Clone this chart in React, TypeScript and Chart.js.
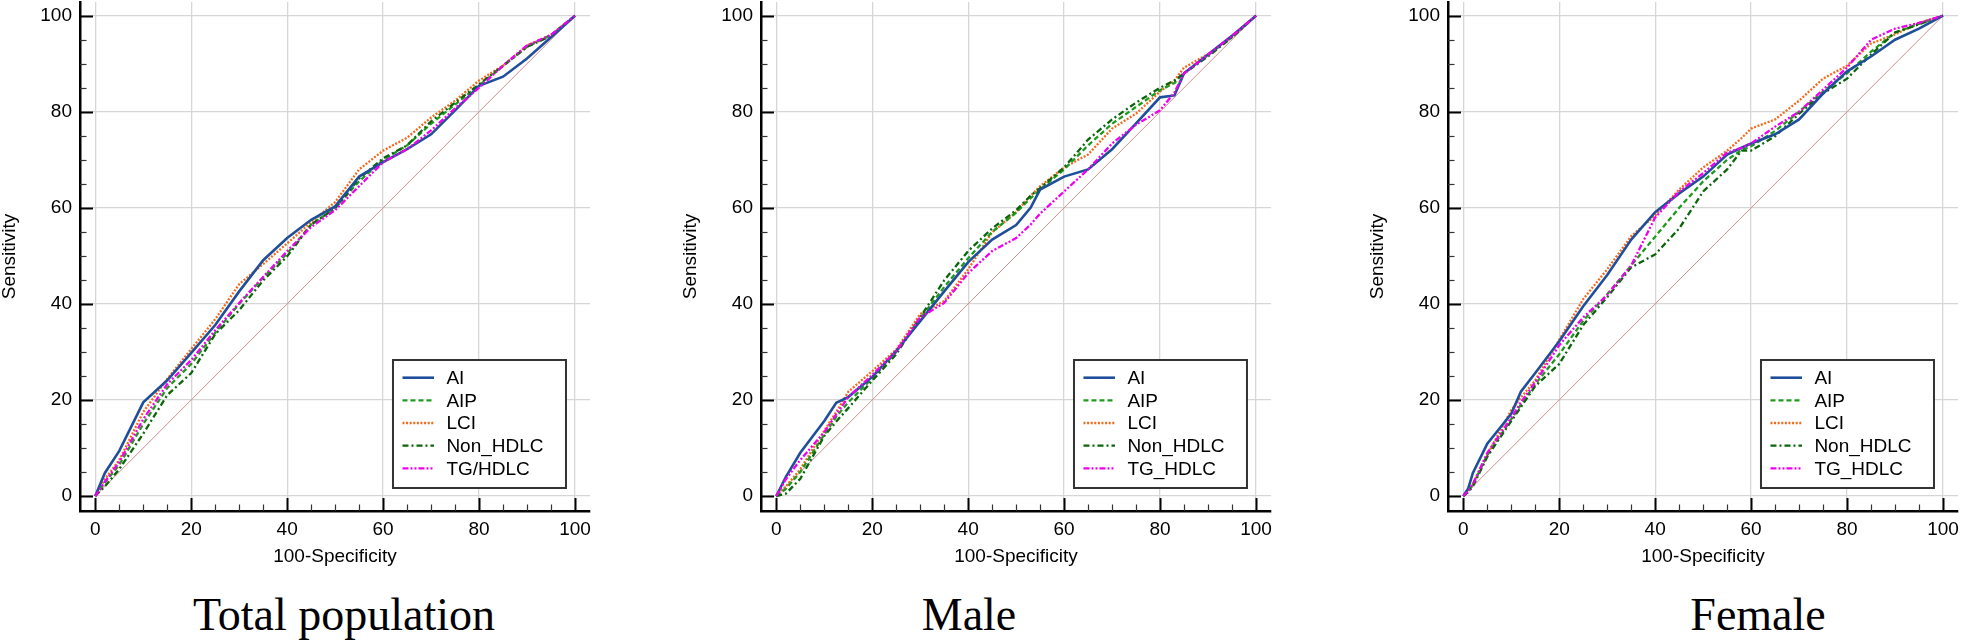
import React, { useEffect, useRef } from "react";
import { Chart, registerables } from "chart.js";

Chart.register(...registerables);

// ---------- data ----------
const panelTitles = ["Total population", "Male", "Female"];
const legendNamesTotal = ["AI", "AIP", "LCI", "Non_HDLC", "TG/HDLC"];
const legendNamesSex = ["AI", "AIP", "LCI", "Non_HDLC", "TG_HDLC"];
const tickValues = [0, 20, 40, 60, 80, 100];
const minorTickValues = [0, 5, 10, 15, 20, 25, 30, 35, 40, 45, 50, 55, 60, 65, 70, 75, 80, 85, 90, 95, 100];
const chanceX = [0, 100];
const chanceY = [0, 100];

// Total population
const totalFpr = [0, 2, 5, 10, 15, 20, 25, 30, 35, 40, 45, 50, 55, 60, 65, 70, 75, 80, 85, 90, 95, 100];
const totalAI = [0, 4.8, 9.4, 19.5, 24.1, 29.8, 35.6, 42.6, 49.1, 53.7, 57.5, 60.3, 66.5, 69.5, 72.2, 75.3, 80.3, 85.4, 87.3, 91.1, 95.5, 100];
const totalAIP = [0, 2.8, 6.5, 15, 22.5, 27.5, 34, 40, 45.5, 50.5, 56.5, 60, 65.5, 70, 73, 77.5, 81.5, 85.5, 89.5, 93.5, 96, 100];
const totalLCI = [0, 3.5, 7.5, 17.5, 24.4, 30.6, 36.8, 44.1, 48.3, 52.6, 57, 61.2, 68, 71.9, 74.6, 78.8, 82.3, 86.5, 89.6, 93.8, 96, 100];
const totalNonHDLC = [0, 2, 5.6, 13, 21, 25.6, 33.7, 38.7, 44.9, 49.9, 56.5, 59.9, 66.1, 70.3, 73, 78, 81.9, 85.7, 89.6, 93.5, 95.8, 100];
const totalTGHDLC = [0, 3, 7.1, 16, 23.3, 28.3, 34.5, 40.2, 45.6, 51, 56, 59.5, 64.5, 69.5, 72.2, 76.1, 80.7, 85, 89.6, 93.8, 96, 100];

// Male
const maleFpr = [0, 2, 5, 10, 12.5, 15, 20, 25, 30, 35, 40, 45, 50, 53, 55, 60, 65, 70, 75, 80, 83, 85, 90, 95, 100];
const maleAI = [0, 4, 9, 15.6, 19.4, 20.6, 24.8, 30.2, 36.4, 42.6, 48.7, 53.4, 56.4, 60, 63.8, 66.5, 68, 72.2, 77.6, 83, 83.4, 88, 91.9, 95.8, 100];
const maleAIP = [0, 1.5, 5, 12.8, 16.5, 19.5, 24.5, 30, 37, 43.5, 49.5, 55, 59, 62, 63.8, 68, 73, 77.5, 81, 84.5, 86, 88, 91.8, 95.6, 100];
const maleLCI = [0, 2, 5.6, 13.6, 17.5, 21.7, 26, 30.5, 37.9, 40.6, 47.2, 54.9, 59.1, 62.5, 64.5, 68.4, 71.1, 76.5, 79.6, 84.2, 86.5, 89.2, 92, 95.5, 100];
const maleNonHDLC = [0, 0.5, 3.6, 12.5, 15.5, 18.3, 24, 29.5, 37.2, 44.9, 51, 55.7, 59.5, 62.5, 64.1, 68.4, 74.2, 78.4, 81.9, 85, 86.5, 88, 91.5, 95.5, 100];
const maleTGHDLC = [0, 3.5, 7.5, 13.3, 17, 20.6, 25.2, 30.2, 37.2, 40.2, 46.4, 51, 53.7, 56.5, 58.8, 63.4, 68, 73.4, 77.3, 80.3, 84, 88, 91.9, 95.8, 100];

// Female
const femaleFpr = [0, 1, 2, 5, 10, 12, 15, 20, 25, 30, 35, 40, 45, 50, 55, 58, 60, 65, 70, 75, 80, 85, 90, 95, 100];
const femaleAI = [0, 1.5, 4.8, 10.9, 17.1, 21.7, 25.6, 32.2, 39.5, 46, 53.4, 59.1, 63, 66.5, 71.1, 72.5, 73.4, 75.3, 78.4, 83.8, 88.4, 91.5, 95, 97.3, 100];
const femaleAIP = [0, 1, 2.3, 8.5, 16, 19, 23.3, 29.5, 36.5, 42, 48, 54, 60, 65.5, 70, 72, 72.8, 76, 80, 84.2, 88, 92.5, 96.5, 98.3, 100];
const femaleLCI = [0, 1, 2.5, 8.6, 17.9, 20.5, 24.1, 32.5, 41, 47.2, 54.1, 58.4, 63.8, 68.4, 71.9, 74.5, 76.5, 78.4, 82.3, 86.9, 89.6, 94.2, 96.1, 98.5, 100];
const femaleNonHDLC = [0, 0.8, 2, 8.2, 15.6, 18.5, 22.9, 27.5, 35.6, 41.4, 47.6, 50.3, 55.7, 63.4, 68, 71.9, 71.9, 74.9, 79.6, 83.8, 86.9, 91.9, 96.5, 98.2, 100];
const femaleTGHDLC = [0, 1, 2.5, 9, 16.3, 19.5, 23.7, 31.4, 37.2, 41.8, 48, 58, 63.4, 67.2, 71.5, 72.5, 73.4, 76.9, 80, 84.6, 89.2, 95, 97.3, 98.5, 100];

// ---------- styles ----------
const FONT = '"Liberation Sans", Arial, Helvetica, sans-serif';
const lineStyles = [
  { color: "#1f4e9a", width: 2.6, dash: [] as number[] },
  { color: "#1e9a1e", width: 2.3, dash: [5, 3] },
  { color: "#f26a1b", width: 2.3, dash: [2, 1.6] },
  { color: "#0b650b", width: 2.3, dash: [6, 3, 2, 3] },
  { color: "#f000f0", width: 2.3, dash: [6, 2, 2, 2, 2, 2] },
];

type Panel = {
  title: string;
  names: string[];
  fpr: number[];
  series: number[][];
  canvasLeft: number;
  titleCenter: number;
};

const panels: Panel[] = [
  { title: panelTitles[0], names: legendNamesTotal, fpr: totalFpr, series: [totalAI, totalAIP, totalLCI, totalNonHDLC, totalTGHDLC], canvasLeft: 0, titleCenter: 344 },
  { title: panelTitles[1], names: legendNamesSex, fpr: maleFpr, series: [maleAI, maleAIP, maleLCI, maleNonHDLC, maleTGHDLC], canvasLeft: 681, titleCenter: 969 },
  { title: panelTitles[2], names: legendNamesSex, fpr: femaleFpr, series: [femaleAI, femaleAIP, femaleLCI, femaleNonHDLC, femaleTGHDLC], canvasLeft: 1368, titleCenter: 1758 },
];

const CANVAS_W = 593;
const CANVAS_H = 580;

function makePlugin(panel: Panel) {
  return {
    id: "rocExtras",
    beforeDatasetsDraw(chart: any) {
      const ctx = chart.ctx;
      const xs = chart.scales.x;
      const ys = chart.scales.y;
      const area = chart.chartArea;
      ctx.save();
      for (const v of minorTickValues) {
        const major = v % 20 === 0;
        const len = major ? 13 : 6.5;
        ctx.strokeStyle = major ? "#000" : "#333";
        ctx.lineWidth = major ? 2 : 1.2;
        const px = Math.round(xs.getPixelForValue(v)) + 0.5;
        ctx.beginPath();
        ctx.moveTo(px, area.bottom);
        ctx.lineTo(px, area.bottom - len);
        ctx.stroke();
        const py = Math.round(ys.getPixelForValue(v)) + 0.5;
        ctx.beginPath();
        ctx.moveTo(area.left, py);
        ctx.lineTo(area.left + len, py);
        ctx.stroke();
      }
      ctx.restore();
    },
    afterDraw(chart: any) {
      const ctx = chart.ctx;
      const xs = chart.scales.x;
      const right = xs.getPixelForValue(100) - 9;
      const left = right - 173;
      const top = 360;
      const bottom = 488;
      ctx.save();
      ctx.fillStyle = "#fff";
      ctx.fillRect(left, top, right - left, bottom - top);
      ctx.strokeStyle = "#333";
      ctx.lineWidth = 2;
      ctx.strokeRect(left, top, right - left, bottom - top);
      ctx.font = `19px ${FONT}`;
      ctx.textBaseline = "middle";
      ctx.textAlign = "left";
      panel.names.forEach((name, i) => {
        const y = top + 17.7 + i * 22.65;
        const st = lineStyles[i];
        ctx.strokeStyle = st.color;
        ctx.lineWidth = st.width;
        ctx.setLineDash(st.dash);
        ctx.beginPath();
        ctx.moveTo(left + 9.5, y);
        ctx.lineTo(left + 41, y);
        ctx.stroke();
        ctx.setLineDash([]);
        ctx.fillStyle = "#000";
        ctx.fillText(name, left + 53.4, y + 1);
      });
      ctx.restore();
    },
  };
}

function RocChart({ panel }: { panel: Panel }) {
  const ref = useRef<HTMLCanvasElement | null>(null);
  useEffect(() => {
    if (!ref.current) return;
    const drawOrder = [4, 0, 3, 1, 2];
    const datasets: any[] = drawOrder.map((k) => ({
      label: panel.names[k],
      data: panel.fpr.map((x, i) => ({ x, y: panel.series[k][i] })),
      borderColor: lineStyles[k].color,
      borderWidth: lineStyles[k].width,
      borderDash: lineStyles[k].dash,
      pointRadius: 0,
      fill: false,
      tension: 0,
    }));
    datasets.push({
      label: "chance",
      data: chanceX.map((x, i) => ({ x, y: chanceY[i] })),
      borderColor: "#cf8f8f",
      borderWidth: 1,
      pointRadius: 0,
      fill: false,
      tension: 0,
    });
    const tickFont = { family: FONT, size: 19 };
    const chart = new Chart(ref.current, {
      type: "line",
      data: { datasets },
      plugins: [makePlugin(panel)],
      options: {
        animation: false,
        responsive: false,
        devicePixelRatio: 1,
        layout: { padding: { left: 0, right: 3, top: 2, bottom: 0 } },
        plugins: { legend: { display: false }, tooltip: { enabled: false } },
        scales: {
          x: {
            type: "linear",
            min: -3.19,
            max: 103.13,
            afterBuildTicks: (s: any) => {
              s.ticks = tickValues.map((v) => ({ value: v }));
            },
            afterFit: (s: any) => {
              s.height = 69;
              s.paddingLeft = 0;
              s.paddingRight = 0;
              s.paddingTop = 0;
              s.paddingBottom = 0;
            },
            grid: { color: "#d6d6d6", lineWidth: 1.3, drawTicks: false },
            border: { display: true, color: "#000", width: 2.5 },
            ticks: { font: tickFont, color: "#000", padding: 7, maxRotation: 0, autoSkip: false },
            title: {
              display: true,
              text: "100-Specificity",
              font: { family: FONT, size: 19, lineHeight: 1 },
              color: "#000",
              padding: { top: 0, bottom: 13.5 },
            },
          },
          y: {
            type: "linear",
            min: -3.12,
            max: 102.85,
            afterBuildTicks: (s: any) => {
              s.ticks = tickValues.map((v) => ({ value: v }));
            },
            afterFit: (s: any) => {
              s.width = 80;
              s.paddingLeft = 0;
              s.paddingRight = 0;
              s.paddingTop = 0;
              s.paddingBottom = 0;
            },
            grid: { color: "#d6d6d6", lineWidth: 1.3, drawTicks: false },
            border: { display: true, color: "#000", width: 2.5 },
            ticks: { font: tickFont, color: "#000", padding: 8, autoSkip: false },
            title: {
              display: true,
              text: "Sensitivity",
              font: { family: FONT, size: 19, lineHeight: 1 },
              color: "#000",
              padding: { top: 0, bottom: 0 },
            },
          },
        },
      } as any,
    });
    return () => chart.destroy();
  }, [panel]);
  return (
    <canvas
      ref={ref}
      width={CANVAS_W}
      height={CANVAS_H}
      style={{ position: "absolute", left: panel.canvasLeft, top: 0, width: CANVAS_W, height: CANVAS_H }}
    />
  );
}

export default function App() {
  return (
    <div style={{ position: "absolute", left: 0, top: 0, width: 1961, height: 642, background: "#fff", overflow: "hidden" }}>
      {panels.map((p) => (
        <React.Fragment key={p.title}>
          <RocChart panel={p} />
          <div
            style={{
              position: "absolute",
              left: p.titleCenter,
              top: 591.5,
              transform: "translateX(-50%)",
              whiteSpace: "nowrap",
              fontFamily: '"Liberation Serif", "Times New Roman", serif',
              fontSize: 46,
              lineHeight: "46px",
              color: "#000",
            }}
          >
            {p.title}
          </div>
        </React.Fragment>
      ))}
    </div>
  );
}
